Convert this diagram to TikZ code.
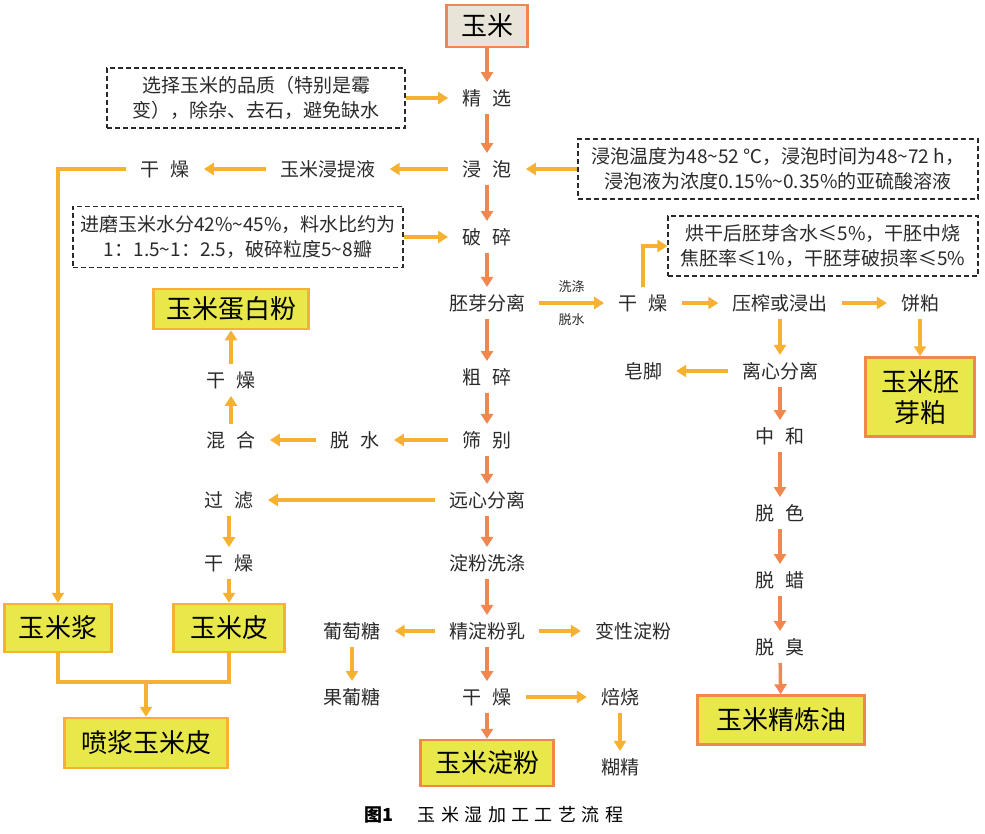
\documentclass[tikz,border=0pt]{standalone}
\usepackage{fontspec}
\setmainfont{Noto Sans CJK SC}
\usetikzlibrary{arrows.meta}
\definecolor{orc}{HTML}{F0874E}
\definecolor{yec}{HTML}{F6B132}
\definecolor{boxy}{HTML}{E8E84A}
\definecolor{beige}{HTML}{E8E4D8}
\definecolor{txtc}{HTML}{2A2A2A}
\newcommand\lblfont{\fontsize{19}{22}\selectfont}
\newcommand\notefont{\fontsize{19}{25}\selectfont}
\newcommand\prodfont{\fontsize{26}{31}\selectfont}
\newcommand\smlfont{\fontsize{13}{15}\selectfont}
\newcommand\jian{\hspace{0.6em}}
\begin{document}
\begin{tikzpicture}[x=1pt,y=-1pt,
  lbl/.style={inner xsep=14pt,inner ysep=7pt,font=\lblfont,text=txtc},
  prod/.style={draw=orc,line width=2.5pt,fill=boxy,font=\prodfont,inner sep=0pt,align=center},
  yprod/.style={prod,draw=yec},
  note/.style={draw=txtc,line width=1.1pt,dash pattern=on 5pt off 3pt,font=\notefont,
    text=txtc,align=center,inner sep=0pt},
  oa/.style={draw=orc,line width=3.5pt,-{Triangle[length=10pt,width=12pt]}},
  ya/.style={oa,draw=yec}]
  \useasboundingbox (0,0) rectangle (985,834);
  % main column
  \node[prod,fill=beige,minimum width=81pt,minimum height=42pt] (ym) at (487,26) {玉米};
  \node[lbl] (jx) at (487,98) {精\jian 选};
  \node[lbl] (jp) at (487,169) {浸\jian 泡};
  \node[lbl] (ps) at (487,237) {破\jian 碎};
  \node[lbl] (pyfl) at (487,303) {胚芽分离};
  \node[lbl] (cs) at (487,377) {粗\jian 碎};
  \node[lbl] (sb) at (487,440) {筛\jian 别};
  \node[lbl] (yxfl) at (487,500) {远心分离};
  \node[lbl] (dfxd) at (487,563) {淀粉洗涤};
  \node[lbl] (jdfr) at (487,631) {精淀粉乳};
  \node[lbl] (gz) at (487,697) {干\jian 燥};
  \node[prod,minimum width=133pt,minimum height=46pt] (ymdf) at (487,763) {玉米淀粉};
  % notes
  \node[note,minimum width=298pt,minimum height=60pt] (n1) at (256,98)
    {选择玉米的品质（特别是霉\\变），除杂、去石，避免缺水};
  \node[note,minimum width=330pt,minimum height=61pt] (n2) at (238,237)
    {进磨玉米水分42\%\textasciitilde45\%，料水比约为\\1：1.5\textasciitilde1：2.5，破碎粒度5\textasciitilde8瓣};
  \node[note,minimum width=400pt,minimum height=60pt] (n3) at (778,169)
    {浸泡温度为48\textasciitilde52 ℃，浸泡时间为48\textasciitilde72 h，\\浸泡液为浓度0.15\%\textasciitilde0.35\%的亚硫酸溶液};
  \node[note,minimum width=310pt,minimum height=60pt] (n4) at (823,246)
    {烘干后胚芽含水≤5\%，干胚中烧\\焦胚率≤1\%，干胚芽破损率≤5\%};
  % left side
  \node[lbl] (tql) at (328,169) {玉米浸提液};
  \node[lbl] (gz1) at (165,169) {干\jian 燥};
  \node[lbl] (ts1) at (355,440) {脱\jian 水};
  \node[lbl] (hh) at (231,440) {混\jian 合};
  \node[lbl] (gz2) at (231,380) {干\jian 燥};
  \node[yprod,minimum width=155pt,minimum height=40pt] (dbf) at (231,309) {玉米蛋白粉};
  \node[lbl] (gl) at (229,500) {过\jian 滤};
  \node[lbl] (gz3) at (229,563) {干\jian 燥};
  \node[yprod,minimum width=107pt,minimum height=48pt] (yj) at (58,628) {玉米浆};
  \node[yprod,minimum width=111pt,minimum height=48pt] (yp) at (229,628) {玉米皮};
  \node[yprod,minimum width=163pt,minimum height=50pt] (pj) at (146,743) {喷浆玉米皮};
  \coordinate (hb) at (146,682);
  % starch side
  \node[lbl] (ptt) at (352,631) {葡萄糖};
  \node[lbl] (gpt) at (352,697) {果葡糖};
  \node[lbl] (bx) at (633,631) {变性淀粉};
  \node[lbl] (bs) at (620,697) {焙烧};
  \node[lbl] (hj) at (620,767) {糊精};
  % germ side
  \node[lbl] (gz4) at (643,303) {干\jian 燥};
  \node[lbl] (yz) at (780,303) {压榨或浸出};
  \node[lbl] (bp) at (920,303) {饼粕};
  \node[prod,minimum width=109pt,minimum height=79pt] (pyp) at (920,397) {玉米胚\\芽粕};
  \node[lbl] (lx) at (780,371) {离心分离};
  \node[lbl] (zj) at (643,371) {皂脚};
  \node[lbl] (zh) at (780,436) {中\jian 和};
  \node[lbl] (tse) at (780,513) {脱\jian 色};
  \node[lbl] (tl) at (780,580) {脱\jian 蜡};
  \node[lbl] (tc) at (780,647) {脱\jian 臭};
  \node[prod,minimum width=167pt,minimum height=49pt] (jly) at (781,720) {玉米精炼油};
  % caption
  \node[font=\fontsize{18}{20}\selectfont] (cap) at (494,815)
    {\textbf{图1}\hspace{24pt}\addfontfeature{LetterSpace=30}玉米湿加工工艺流程};
  % connectors
  \foreach \a/\b in {ym/jx,jx/jp,jp/ps,ps/pyfl,pyfl/cs,cs/sb,sb/yxfl,yxfl/dfxd,
    dfxd/jdfr,jdfr/gz,gz/ymdf,lx/zh,zh/tse,tse/tl,tl/tc,tc/jly}
    \draw[oa] (\a) -- (\b);
  \foreach \a/\b in {n1/jx,n2/ps,n3/jp,jp/tql,tql/gz1,sb/ts1,ts1/hh,hh/gz2,gz2/dbf,
    yxfl/gl,gl/gz3,gz3/yp,jdfr/ptt,ptt/gpt,jdfr/bx,gz/bs,bs/hj,gz4/yz,yz/bp,bp/pyp,
    yz/lx,lx/zj,hb/pj}
    \draw[ya] (\a) -- (\b);
  \draw[ya] (gz1.west) -| (yj.north);
  \draw[ya] (gz4.north) |- (n4.west);
  \draw[yec,line width=3.5pt] (yj.south) |- (hb) -| (yp.south);
  \draw[ya] (pyfl) -- node[above=5pt,font=\smlfont,text=txtc] {洗涤}
    node[below=5pt,font=\smlfont,text=txtc] {脱水} (gz4);
\end{tikzpicture}
\end{document}
